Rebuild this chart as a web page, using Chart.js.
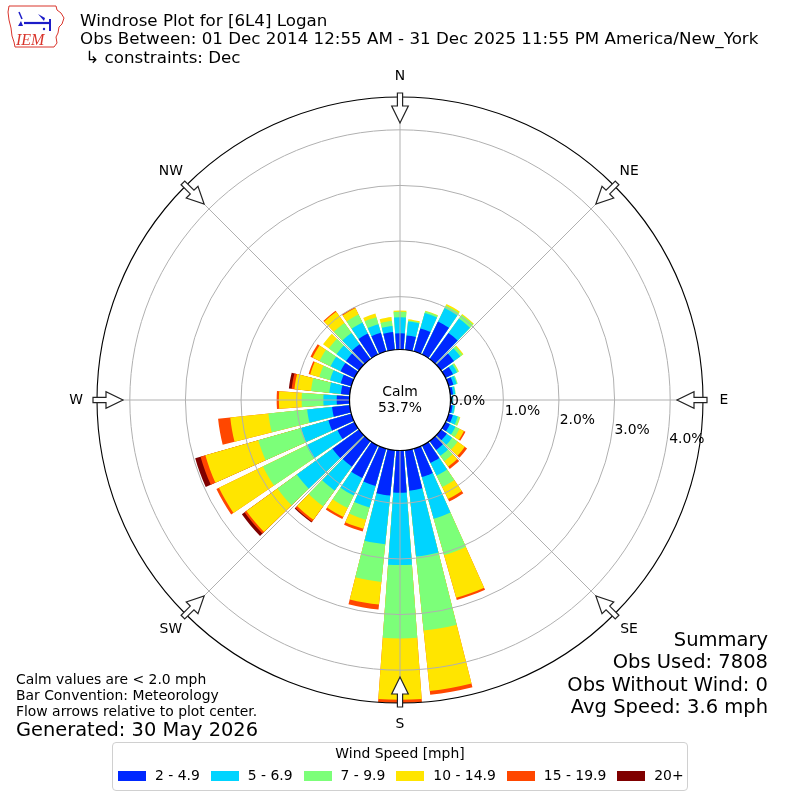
<!DOCTYPE html>
<html>
<head>
<meta charset="utf-8">
<script src="https://cdn.jsdelivr.net/npm/chart.js@4.4.1/dist/chart.umd.min.js"></script>
<style>
  body { margin: 0; background: #fff; font-family: "DejaVu Sans", sans-serif; }
  #wrap { position: relative; width: 800px; height: 800px; overflow: hidden; }
  #rose { position: absolute; left: 0; top: 0; }
  .t { position: absolute; white-space: pre; line-height: 1; color: #000; }
  #legend { position: absolute; left: 112px; top: 742px; width: 574px; height: 47px;
            border: 1px solid #d0d0d0; border-radius: 4px; background: #fff; }
  #legend .title { position: absolute; left: 0; right: 0; top: 4px; text-align: center; font-size: 13.9px; line-height: 1; }
  #legend .row { position: absolute; left: 5px; top: 26px; width: max-content; display: flex; align-items: center;
                 font-size: 13.9px; line-height: 1; white-space: nowrap; }
  #legend .sw { width: 28px; height: 10px; margin-right: 9px; flex-shrink: 0; }
  #legend .item { display: flex; align-items: center; margin-right: 11px; flex-shrink: 0; }
</style>
</head>
<body>
<div id="wrap">
  <canvas id="rose" width="800" height="800"></canvas>

  <svg style="position:absolute;left:0;top:0" width="70" height="52" viewBox="0 0 70 52">
    <path d="M9,6 L56,6 L57,10 L61,13 L64,18 L62,24 L59,27 L58,33 L56,37 L57,43 L54,47 L15,47 L14,42 L12,36 L11,28 L9,20 L8,12 Z"
          fill="none" stroke="#d9342b" stroke-width="1"/>
    <g stroke="#1c1cc8" fill="#1c1cc8">
      <line x1="19" y1="12" x2="22" y2="19" stroke-width="1.5"/>
      <line x1="24" y1="23" x2="51" y2="23" stroke-width="2.2"/>
      <polygon points="18,26 21,21 23,26" stroke="none"/>
      <polygon points="38,14 45,18 44,21" stroke="none"/>
      <line x1="50" y1="19" x2="50" y2="31" stroke-width="2"/>
      <circle cx="44" cy="29" r="1.2" stroke="none"/>
    </g>
    <text x="16" y="45" font-family="Liberation Serif" font-style="italic" font-size="16" fill="#d9342b">IEM</text>
  </svg>

  <div class="t" style="left:80px;top:11.9px;font-size:16.7px">Windrose Plot for [6L4] Logan</div>
  <div class="t" style="left:80px;top:30.4px;font-size:16.7px">Obs Between: 01 Dec 2014 12:55 AM - 31 Dec 2025 11:55 PM America/New_York</div>
  <div class="t" style="left:80px;top:48.9px;font-size:16.7px"> ↳ constraints: Dec</div>

  <div class="t" style="left:16px;top:673.2px;font-size:13.9px">Calm values are &lt; 2.0 mph</div>
  <div class="t" style="left:16px;top:689.2px;font-size:13.9px">Bar Convention: Meteorology</div>
  <div class="t" style="left:16px;top:705.2px;font-size:13.9px">Flow arrows relative to plot center.</div>
  <div class="t" style="left:16px;top:719.6px;font-size:19.4px">Generated: 30 May 2026</div>

  <div class="t" style="right:32px;top:630.2px;font-size:19.5px;text-align:right">Summary</div>
  <div class="t" style="right:32px;top:652.4px;font-size:19.5px;text-align:right">Obs Used: 7808</div>
  <div class="t" style="right:32px;top:674.6px;font-size:19.5px;text-align:right">Obs Without Wind: 0</div>
  <div class="t" style="right:32px;top:696.8px;font-size:19.5px;text-align:right">Avg Speed: 3.6 mph</div>

  <div id="legend">
    <div class="title">Wind Speed [mph]</div>
    <div class="row" id="legendRow"></div>
  </div>
</div>

<script>
// direction of each bar, degrees clockwise from north
const directions = [0, 10, 20, 30, 40, 50, 60, 70, 80, 90, 100, 110, 120, 130, 140, 150, 160, 170,
                    180, 190, 200, 210, 220, 230, 240, 250, 260, 270, 280, 290, 300, 310, 320, 330, 340, 350];

const binLabels = ['2 - 4.9', '5 - 6.9', '7 - 9.9', '10 - 14.9', '15 - 19.9', '20+'];
const binColors = ['rgb(0,40,255)', 'rgb(0,212,255)', 'rgb(124,255,121)', 'rgb(255,229,0)', 'rgb(255,71,0)', 'rgb(127,0,0)'];

// percent of observations per direction, one array per speed bin
const speed2to5   = [0.34, 0.31, 0.48, 0.71, 0.63, 0.34, 0.20, 0.14, 0.10, 0.07, 0.09, 0.13, 0.14, 0.18, 0.25, 0.40, 0.58, 0.78,
                     0.81, 0.87, 0.75, 0.70, 0.62, 0.64, 0.39, 0.48, 0.37, 0.28, 0.21, 0.25, 0.33, 0.34, 0.38, 0.47, 0.40, 0.37];
const speed5to7   = [0.29, 0.25, 0.29, 0.27, 0.32, 0.14, 0.08, 0.06, 0.04, 0.03, 0.04, 0.09, 0.11, 0.12, 0.13, 0.25, 0.78, 1.19,
                     1.30, 0.88, 0.40, 0.35, 0.53, 0.79, 0.62, 0.51, 0.45, 0.24, 0.21, 0.20, 0.20, 0.21, 0.25, 0.22, 0.16, 0.11];
const speed7to10  = [0.10, 0.02, 0.03, 0.05, 0.08, 0.05, 0.03, 0.02, 0.01, 0.00, 0.01, 0.04, 0.08, 0.12, 0.12, 0.23, 0.68, 1.34,
                     1.32, 0.68, 0.23, 0.25, 0.35, 0.43, 0.87, 0.80, 0.70, 0.39, 0.33, 0.20, 0.22, 0.17, 0.22, 0.16, 0.13, 0.09];
const speed10to15 = [0.02, 0.02, 0.01, 0.03, 0.02, 0.02, 0.01, 0.00, 0.00, 0.00, 0.00, 0.01, 0.09, 0.16, 0.12, 0.24, 0.80, 1.09,
                     1.10, 0.41, 0.17, 0.18, 0.30, 0.69, 0.88, 0.99, 0.69, 0.41, 0.30, 0.17, 0.14, 0.13, 0.25, 0.13, 0.07, 0.07];
const speed15to20 = [0.00, 0.00, 0.00, 0.00, 0.00, 0.00, 0.00, 0.00, 0.00, 0.00, 0.00, 0.00, 0.03, 0.05, 0.05, 0.05, 0.04, 0.07,
                     0.06, 0.09, 0.05, 0.04, 0.04, 0.04, 0.05, 0.09, 0.22, 0.04, 0.05, 0.03, 0.04, 0.00, 0.02, 0.02, 0.00, 0.00];
const speed20up   = [0.00, 0.00, 0.00, 0.00, 0.00, 0.00, 0.00, 0.00, 0.00, 0.00, 0.00, 0.00, 0.00, 0.00, 0.00, 0.00, 0.00, 0.00,
                     0.00, 0.00, 0.00, 0.00, 0.02, 0.06, 0.00, 0.10, 0.00, 0.00, 0.05, 0.00, 0.00, 0.00, 0.00, 0.00, 0.00, 0.00];

const binValues = [speed2to5, speed5to7, speed7to10, speed10to15, speed15to20, speed20up];

const rTicks = [0, 1, 2, 3, 4];
const compass = ['N', 'NE', 'E', 'SE', 'S', 'SW', 'W', 'NW'];
const calmText = ['Calm', '53.7%'];

// bar / gap opening in degrees (36 sectors of 10 deg)
const barAngle = 8.3;
const gapAngle = 10 - barAngle;
const rMin = -0.858;
const rMax = 4.59;
const calmEdge = 0.05;

// every sector becomes a bar slot followed by a gap slot
const slotLabels = [];
directions.forEach(d => { slotLabels.push(d + '°', ''); });

// stacked rose: each dataset is the running total up to its bin, smallest on top
const datasets = binValues.map((vals, k) => {
  const stacked = [];
  directions.forEach((d, i) => {
    let total = 0;
    for (let j = 0; j <= k; j++) total += binValues[j][i];
    stacked.push(total, 0);
  });
  return {
    label: binLabels[k],
    data: stacked,
    backgroundColor: c => (c.dataIndex % 2 === 1 || vals[c.dataIndex >> 1] <= 0) ? 'rgba(0,0,0,0)' : binColors[k],
    borderWidth: 0,
    angle: c => c.dataIndex % 2 === 1 ? gapAngle : barAngle
  };
});

const roseDecor = {
  id: 'roseDecor',
  afterDraw(chart) {
    const ctx = chart.ctx;
    const s = chart.scales.r;
    const cx = s.xCenter, cy = s.yCenter, R = s.drawingArea;
    const rc = s.getDistanceFromCenterForValue(calmEdge);
    const pt = (deg, r) => {
      const a = deg * Math.PI / 180;
      return [cx + r * Math.sin(a), cy - r * Math.cos(a)];
    };
    ctx.save();

    // angle lines every 45 deg
    ctx.strokeStyle = '#b0b0b0';
    ctx.lineWidth = 1;
    for (let k = 0; k < 8; k++) {
      const [x0, y0] = pt(k * 45, rc);
      const [x1, y1] = pt(k * 45, R);
      ctx.beginPath(); ctx.moveTo(x0, y0); ctx.lineTo(x1, y1); ctx.stroke();
    }

    // outer frame
    ctx.strokeStyle = '#000';
    ctx.lineWidth = 1.1;
    ctx.beginPath(); ctx.arc(cx, cy, R, 0, Math.PI * 2); ctx.stroke();

    // calm circle
    ctx.fillStyle = '#fff';
    ctx.lineWidth = 1.2;
    ctx.beginPath(); ctx.arc(cx, cy, rc, 0, Math.PI * 2); ctx.fill(); ctx.stroke();
    ctx.fillStyle = '#000';
    ctx.font = '13.9px "DejaVu Sans"';
    ctx.textAlign = 'center';
    ctx.textBaseline = 'middle';
    ctx.fillText(calmText[0], cx, cy - 8);
    ctx.fillText(calmText[1], cx, cy + 8);

    // radial tick labels
    ctx.textAlign = 'left';
    rTicks.forEach(v => {
      const [x, y] = pt(99.8, s.getDistanceFromCenterForValue(v));
      ctx.fillText(v.toFixed(1) + '%', x + 3, y - 6.5);
    });

    // compass labels and inward arrows
    ctx.textAlign = 'center';
    compass.forEach((lab, k) => {
      const deg = k * 45;
      const [lx, ly] = pt(deg, 324);
      ctx.fillStyle = '#000';
      ctx.fillText(lab, lx, ly);

      const a = deg * Math.PI / 180;
      const ux = Math.sin(a), uy = -Math.cos(a);   // outward
      const wx = Math.cos(a), wy = Math.sin(a);    // sideways
      const shape = [[307, -2.6], [294, -2.6], [294, -8.3], [277, 0], [294, 8.3], [294, 2.6], [307, 2.6]];
      ctx.beginPath();
      shape.forEach(([u, w], i) => {
        const x = cx + u * ux + w * wx, y = cy + u * uy + w * wy;
        if (i === 0) ctx.moveTo(x, y); else ctx.lineTo(x, y);
      });
      ctx.closePath();
      ctx.fillStyle = '#fff';
      ctx.fill();
      ctx.strokeStyle = '#222';
      ctx.lineWidth = 1.2;
      ctx.stroke();
    });
    ctx.restore();
  }
};

new Chart(document.getElementById('rose'), {
  type: 'polarArea',
  data: { labels: slotLabels, datasets: datasets },
  options: {
    responsive: false,
    animation: false,
    layout: { padding: 97 },
    plugins: { legend: { display: false }, tooltip: { enabled: false } },
    scales: {
      r: {
        min: rMin,
        max: rMax,
        startAngle: -barAngle / 2,
        ticks: { display: false, stepSize: 1, includeBounds: false },
        grid: {
          z: 1,
          circular: true,
          color: c => (c.tick && c.tick.value > 0) ? '#b0b0b0' : 'rgba(0,0,0,0)',
          lineWidth: 1
        },
        angleLines: { display: false },
        pointLabels: { display: false }
      }
    }
  },
  plugins: [roseDecor]
});

// legend
const row = document.getElementById('legendRow');
binLabels.forEach((lab, k) => {
  const item = document.createElement('div');
  item.className = 'item';
  item.innerHTML = '<div class="sw" style="background:' + binColors[k] + '"></div><span>' + lab + '</span>';
  row.appendChild(item);
});
</script>
</body>
</html>
